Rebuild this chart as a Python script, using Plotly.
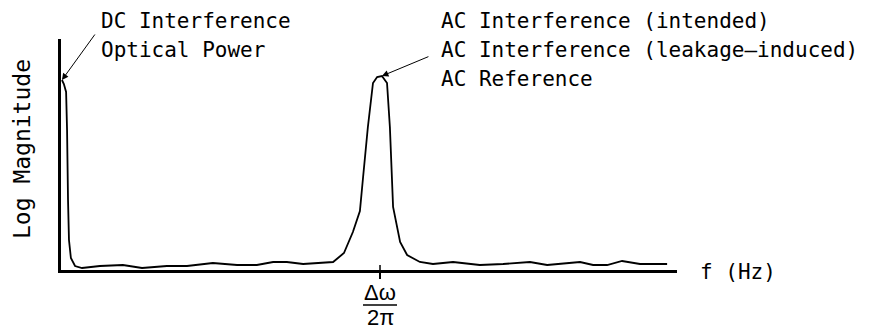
import plotly.graph_objects as go

# Spectrum of the detector signal: frequency in units of the beat frequency Δω/2π,
# log magnitude in arbitrary units.
freq = [0.003, 0.009, 0.016, 0.019, 0.022, 0.025, 0.031, 0.044, 0.066, 0.122,
        0.194, 0.254, 0.332, 0.395, 0.476, 0.552, 0.614, 0.665, 0.708, 0.759,
        0.853, 0.887, 0.915, 0.937, 0.947, 0.962, 0.978, 0.991, 1.006, 1.022,
        1.031, 1.041, 1.063, 1.085, 1.125, 1.166, 1.229, 1.313, 1.386, 1.470,
        1.524, 1.627, 1.668, 1.712, 1.759, 1.815, 1.900]
log_mag = [95, 93, 89, 70, 35, 15, 6, 2, 1, 2,
           2.5, 1, 2, 2, 3.5, 2.5, 2.5, 4, 4, 3,
           4, 8.5, 19, 29.5, 46.5, 71.5, 93.5, 96.5, 97, 93.5,
           71.5, 31.5, 14, 7.5, 4, 3, 4, 2.5, 3, 4,
           2.5, 4, 2.5, 2.5, 4.5, 3, 3]

beat_freq = 1.0
x_range = [0, 1.931]
y_range = [0, 115.5]

dc_labels = ["DC Interference", "Optical Power"]
ac_labels = ["AC Interference (intended)",
             "AC Interference (leakage\u2013induced)",
             "AC Reference"]

W, H = 890, 333
mono = "DejaVu Sans Mono"
sans = "Liberation Sans"

fig = go.Figure()
fig.add_trace(go.Scatter(x=freq, y=log_mag, mode="lines",
                         line=dict(color="black", width=1.8),
                         hoverinfo="skip", showlegend=False))

x0_px, x1_px = 61, 677
y0_px, y1_px = 270, 39

fig.update_layout(
    width=W, height=H,
    margin=dict(l=0, r=0, t=0, b=0),
    paper_bgcolor="white", plot_bgcolor="white",
    xaxis=dict(domain=[x0_px / W, x1_px / W], range=x_range,
               showline=True, linecolor="black", linewidth=3,
               showgrid=False, zeroline=False,
               tickvals=[beat_freq], ticktext=[""], ticks="outside",
               ticklen=6, tickwidth=1.5, tickcolor="black"),
    yaxis=dict(domain=[(H - y0_px) / H, (H - y1_px) / H], range=y_range,
               showline=True, linecolor="black", linewidth=3,
               showgrid=False, zeroline=False, showticklabels=False,
               ticks=""),
)

# inner half of the tick mark at the beat frequency
fig.add_shape(type="line", xref="x", yref="paper",
              x0=beat_freq, x1=beat_freq,
              y0=(H - y0_px) / H, y1=(H - 265) / H,
              line=dict(color="black", width=1.5))

# tick label Δω / 2π drawn as a fraction
fig.add_annotation(x=beat_freq, xref="x", y=(H - 292) / H, yref="paper",
                   text="\u0394\u03c9", showarrow=False,
                   font=dict(family=sans, size=22, color="black"),
                   xanchor="center", yanchor="middle")
fig.add_shape(type="line", xref="x", yref="paper",
              x0=beat_freq - 17 / 319, x1=beat_freq + 17 / 319,
              y0=(H - 305) / H, y1=(H - 305) / H,
              line=dict(color="black", width=1.5))
fig.add_annotation(x=beat_freq, xref="x", y=(H - 317) / H, yref="paper",
                   text="2\u03c0", showarrow=False,
                   font=dict(family=sans, size=22, color="black"),
                   xanchor="center", yanchor="middle")

# axis titles
fig.add_annotation(x=698 / W, xref="paper", y=(H - 272) / H, yref="paper",
                   text="f (Hz)", showarrow=False,
                   font=dict(family=mono, size=21, color="black"),
                   xanchor="left", yanchor="middle")
fig.add_annotation(x=22 / W, xref="paper", y=(H - 149) / H, yref="paper",
                   text="Log Magnitude", showarrow=False, textangle=-90,
                   font=dict(family=mono, size=23, color="black"),
                   xanchor="center", yanchor="middle")

# peak labels
line_gap = 29
for i, t in enumerate(dc_labels):
    fig.add_annotation(x=99 / W, xref="paper", y=(H - (21 + i * line_gap)) / H,
                       yref="paper", text=t, showarrow=False,
                       font=dict(family=mono, size=21, color="black"),
                       xanchor="left", yanchor="middle")
for i, t in enumerate(ac_labels):
    fig.add_annotation(x=439 / W, xref="paper", y=(H - (21 + i * line_gap)) / H,
                       yref="paper", text=t, showarrow=False,
                       font=dict(family=mono, size=21, color="black"),
                       xanchor="left", yanchor="middle")

# arrows pointing at the DC and AC peaks
fig.add_annotation(x=freq[0], y=log_mag[0], xref="x", yref="y", text="",
                   showarrow=True, ax=34, ay=-47, arrowhead=2, arrowsize=1.3,
                   arrowwidth=1, arrowcolor="black")
peak = log_mag.index(max(log_mag))
fig.add_annotation(x=freq[peak], y=log_mag[peak], xref="x", yref="y", text="",
                   showarrow=True, ax=48, ay=-20, arrowhead=2, arrowsize=1.3,
                   arrowwidth=1, arrowcolor="black")

fig.write_html("out.html")
